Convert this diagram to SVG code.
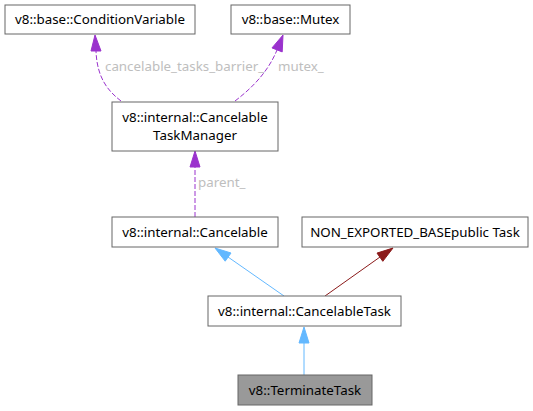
<svg xmlns="http://www.w3.org/2000/svg" width="533" height="411" viewBox="0 0 533 411">
<style>
.n rect{fill:#fff;stroke:#666;stroke-width:1}
.n text{font-family:"Noto Sans","DejaVu Sans",sans-serif;font-size:13.33px;fill:#000;text-anchor:middle}
.lbl{font-family:"Noto Sans","DejaVu Sans",sans-serif;font-size:13.33px;fill:#bebebe}
.inh{stroke:#63b8ff;fill:none;stroke-width:1}
.inhh{fill:#63b8ff;stroke:#63b8ff}
.red{stroke:#8b1a1a;fill:none;stroke-width:1}
.redh{fill:#8b1a1a;stroke:#8b1a1a}
.use{stroke:#9a32cd;fill:none;stroke-width:1;stroke-dasharray:5,2}
.useh{fill:#9a32cd;stroke:#9a32cd}
</style>
<rect width="533" height="411" fill="#fff"/>
<g id="connectors">
<path class="inh" d="M304,375 V343"/>
<polygon class="inhh" points="304,327 309,343 299,343"/>
<path class="inh" d="M284,296 L228,257"/>
<polygon class="inhh" points="215,248 231,253 225.2,261.2"/>
<path class="red" d="M325,296 L380,257"/>
<polygon class="redh" points="393,248 382.8,261.3 377,253.1"/>
<path class="use" d="M195,217 V167"/>
<polygon class="useh" points="195,151 200,167 190,167"/>
<text class="lbl" x="198" y="187">parent_</text>
<path class="use" d="M121,101 C108,91 97,78 96,51"/>
<polygon class="useh" points="95,35 101,51 91,51"/>
<text class="lbl" x="105" y="71">cancelable_tasks_barrier_</text>
<path class="use" d="M235,101 C252,88 268,72 277,50"/>
<polygon class="useh" points="283,35 282.2,51.9 272,47.9"/>
<text class="lbl" x="278" y="71">mutex_</text>
</g>
<g id="node-conditionvariable" class="n"><rect x="5" y="5" width="190" height="29"/><text x="100" y="24">v8::base::ConditionVariable</text></g>
<g id="node-mutex" class="n"><rect x="231" y="5" width="119" height="29"/><text x="290.5" y="24">v8::base::Mutex</text></g>
<g id="node-cancelabletaskmanager" class="n"><rect x="112" y="102" width="166" height="49"/><text x="195" y="122">v8::internal::Cancelable</text><text x="195" y="139.5">TaskManager</text></g>
<g id="node-cancelable" class="n"><rect x="112" y="217" width="166" height="30"/><text x="195" y="236.5">v8::internal::Cancelable</text></g>
<g id="node-nonexported" class="n"><rect x="302" y="217" width="226" height="30"/><text x="415" y="236.5">NON_EXPORTED_BASEpublic Task</text></g>
<g id="node-cancelabletask" class="n"><rect x="208" y="296" width="193" height="30"/><text x="304.5" y="315.5">v8::internal::CancelableTask</text></g>
<g id="node-terminatetask" class="n"><rect x="238" y="375" width="134" height="30" style="fill:#999"/><text x="305" y="394.5">v8::TerminateTask</text></g>
</svg>
